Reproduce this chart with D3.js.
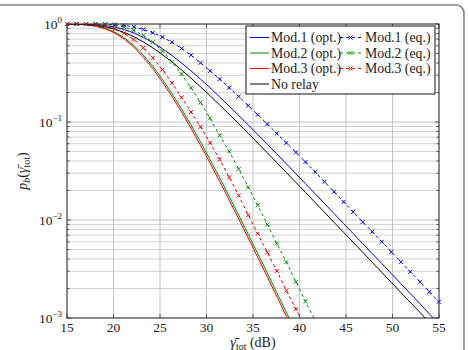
<!DOCTYPE html>
<html><head><meta charset="utf-8">
<script src="https://cdn.jsdelivr.net/npm/d3@7/dist/d3.min.js"></script>
<style>html,body{margin:0;padding:0;background:#fff;}svg{display:block;}
svg text{font-family:"Liberation Serif","DejaVu Serif",serif;}</style>
</head><body>
<svg id="c" width="468" height="350"></svg>
<script>
// x samples (dB)
const snrDb = [15.00,16.03,17.05,18.08,19.10,20.13,21.15,22.18,23.21,24.23,25.26,26.28,27.31,28.33,29.36,30.38,31.41,32.44,33.46,34.49,35.51,36.54,37.56,38.59,39.62,40.64,41.67,42.69,43.72,44.74,45.77,46.79,47.82,48.85,49.87,50.90,51.92,52.95,53.97,55.00];
// outage probability per series
const mod1Opt = [1.000,0.999,0.9956,0.986,0.966,0.931,0.879,0.811,0.7315,0.6465,0.5596,0.4772,0.4005,0.3328,0.2733,0.223,0.1805,0.1453,0.1168,0.0934,0.0745,0.0593,0.0472,0.0374,0.0296,0.02349,0.01858,0.01472,0.01163,0.00921,0.00727,0.00575,0.00454,0.00359,0.00284,0.00224,0.00177,0.0014,0.0011,0.00087];
const mod1Eq = [1.000,1.000,1.000,0.999,0.9954,0.9863,0.9683,0.9333,0.881,0.815,0.736,0.651,0.564,0.481,0.402,0.333,0.274,0.224,0.182,0.147,0.1186,0.0953,0.0764,0.0612,0.0490,0.0391,0.0311,0.02455,0.01941,0.01531,0.01211,0.00955,0.00759,0.00600,0.00473,0.00374,0.00296,0.00234,0.00185,0.001466];
const mod2Opt = [0.9992,0.9959,0.9851,0.9584,0.908,0.8285,0.7245,0.6045,0.4823,0.3702,0.2732,0.1961,0.1365,0.09345,0.0625,0.04141,0.027,0.01742,0.01121,0.00714,0.004548,0.002873,0.001816,0.001141,0.000715];
const mod2Eq = [1.000,1.000,0.9996,0.9978,0.9907,0.9713,0.931,0.8627,0.7667,0.6522,0.5293,0.4126,0.3087,0.224,0.158,0.109,0.0732,0.0501,0.0331,0.0216,0.01413,0.00902,0.00575,0.00372,0.00234,0.00148,0.000955];
const mod3Opt = [0.9989,0.9946,0.9815,0.9506,0.8947,0.8096,0.7022,0.5808,0.4591,0.35,0.2565,0.1831,0.1269,0.0865,0.05774,0.03814,0.0248,0.016,0.01028,0.006545,0.00416,0.002626,0.00166,0.001041,0.000653];
const mod3Eq = [1.000,0.9987,0.9941,0.9798,0.9477,0.8892,0.8032,0.6929,0.571,0.4512,0.342,0.251,0.179,0.1265,0.0895,0.0615,0.0416,0.0272,0.0178,0.01122,0.00724,0.00468,0.00302,0.00191,0.00123,0.000794];
const noRelay = [1.000,0.9962,0.9879,0.9693,0.9363,0.8862,0.8206,0.742,0.6567,0.5706,0.4866,0.4098,0.3402,0.2803,0.2285,0.1854,0.1494,0.1198,0.096,0.0765,0.061,0.0485,0.0385,0.0305,0.02413,0.01913,0.01512,0.01198,0.00946,0.00749,0.00593,0.00469,0.0037,0.00292,0.00231,0.00182,0.00144,0.00114,0.000897];

const xTicks = [15,20,25,30,35,40,45,50,55];
const yExponents = [0,-1,-2,-3];
const legendLabels = ["Mod.1 (opt.)","Mod.1 (eq.)","Mod.2 (opt.)","Mod.2 (eq.)","Mod.3 (opt.)","Mod.3 (eq.)","No relay"];

const BLUE="#0000e6", GREEN="#008a00", RED="#f00000", BLACK="#000";
const series = [
  {name:legendLabels[0], v:mod1Opt, color:BLUE, dashed:false},
  {name:legendLabels[1], v:mod1Eq, color:BLUE, dashed:true},
  {name:legendLabels[2], v:mod2Opt, color:GREEN, dashed:false},
  {name:legendLabels[3], v:mod2Eq, color:GREEN, dashed:true},
  {name:legendLabels[4], v:mod3Opt, color:RED, dashed:false},
  {name:legendLabels[5], v:mod3Eq, color:RED, dashed:true},
  {name:legendLabels[6], v:noRelay, color:BLACK, dashed:false}
];

const L=67, R=439, T=24, B=318;
const svg = d3.select("#c");

// outer rounded frame
svg.append("rect").attr("x",-20).attr("y",5).attr("width",484).attr("height",380)
  .attr("rx",8).attr("fill","none").attr("stroke","#858585").attr("stroke-width",1.6);

const x = d3.scaleLinear().domain([15,55]).range([L,R]);
const y = d3.scaleLog().domain([1e-3,1]).range([B,T]);

// grid
const g = svg.append("g");
const minorVals = [];
for (let e=-3;e<0;e++) for (let m=2;m<=9;m++) minorVals.push(m*Math.pow(10,e));
g.selectAll(".hm").data(minorVals).join("line")
  .attr("x1",L).attr("x2",R).attr("y1",d=>y(d)).attr("y2",d=>y(d))
  .attr("stroke","#cfcfcf").attr("stroke-width",0.9);
g.selectAll(".hM").data(yExponents).join("line")
  .attr("x1",L).attr("x2",R).attr("y1",d=>y(Math.pow(10,d))).attr("y2",d=>y(Math.pow(10,d)))
  .attr("stroke","#c4c4c4").attr("stroke-width",1);
g.selectAll(".vM").data(xTicks).join("line")
  .attr("x1",d=>x(d)).attr("x2",d=>x(d)).attr("y1",T).attr("y2",B)
  .attr("stroke","#c4c4c4").attr("stroke-width",1);

// clip
svg.append("clipPath").attr("id","pc").append("rect").attr("x",L).attr("y",T).attr("width",R-L).attr("height",B-T);

const line = d3.line().x(d=>x(d[0])).y(d=>y(d[1]));
const plot = svg.append("g").attr("clip-path","url(#pc)");
series.forEach(s=>{
  const pts = s.v.map((p,i)=>[snrDb[i],p]);
  plot.append("path").attr("d",line(pts)).attr("fill","none")
    .attr("stroke",s.color).attr("stroke-width",1)
    .attr("stroke-dasharray",s.dashed?"3,3":null);
});
// markers (only in-range points)
series.filter(s=>s.dashed).forEach(s=>{
  const pts = s.v.map((p,i)=>[snrDb[i],p]).filter(d=>d[1]>=1e-3 && d[1]<=1.0001);
  const mg = svg.append("g");
  pts.forEach(d=>{
    const cx=x(d[0]), cy=y(Math.min(d[1],1));
    mg.append("path").attr("d",`M${cx-2},${cy-2}L${cx+2},${cy+2}M${cx-2},${cy+2}L${cx+2},${cy-2}`)
      .attr("stroke",s.color).attr("stroke-width",1);
  });
});

// axes frame
svg.append("rect").attr("x",L).attr("y",T).attr("width",R-L).attr("height",B-T)
  .attr("fill","none").attr("stroke","#333").attr("stroke-width",1);

// ticks (inside, both sides)
const tk = svg.append("g").attr("stroke","#333").attr("stroke-width",0.8);
xTicks.forEach(v=>{
  tk.append("line").attr("x1",x(v)).attr("x2",x(v)).attr("y1",B).attr("y2",B-4);
  tk.append("line").attr("x1",x(v)).attr("x2",x(v)).attr("y1",T).attr("y2",T+4);
});
yExponents.forEach(e=>{
  const yy=y(Math.pow(10,e));
  tk.append("line").attr("x1",L).attr("x2",L+4).attr("y1",yy).attr("y2",yy);
  tk.append("line").attr("x1",R).attr("x2",R-4).attr("y1",yy).attr("y2",yy);
});
minorVals.forEach(v=>{
  const yy=y(v);
  tk.append("line").attr("x1",L).attr("x2",L+2.5).attr("y1",yy).attr("y2",yy);
  tk.append("line").attr("x1",R).attr("x2",R-2.5).attr("y1",yy).attr("y2",yy);
});

// tick labels
svg.selectAll(".xl").data(xTicks).join("text")
  .attr("x",d=>x(d)).attr("y",331.5).attr("text-anchor","middle")
  .attr("font-size",13.5).attr("fill","#222").text(d=>d);
yExponents.forEach(e=>{
  const yy=y(Math.pow(10,e));
  const t = svg.append("text").attr("x",62).attr("y",yy+5).attr("text-anchor","end")
    .attr("font-size",13.5).attr("fill","#222");
  t.append("tspan").text("10");
  t.append("tspan").attr("dy",-6).attr("font-size",9).text(e===0?"0":"\u2212"+(-e));
});

// axis labels
const xl = svg.append("text").attr("x",253).attr("y",347).attr("text-anchor","middle")
  .attr("font-size",14).attr("fill","#222");
xl.append("tspan").attr("font-style","italic").text("\u03B3\u0304");
xl.append("tspan").attr("font-size",10).attr("dy",2.5).text("tot");
xl.append("tspan").attr("dy",-2.5).text(" (dB)");

const yl = svg.append("text").attr("transform","translate(27,171) rotate(-90)")
  .attr("text-anchor","middle").attr("font-size",14).attr("fill","#222");
yl.append("tspan").attr("font-style","italic").text("p");
yl.append("tspan").attr("font-size",10).attr("dy",2.5).attr("font-style","italic").text("b");
yl.append("tspan").attr("dy",-2.5).text("(");
yl.append("tspan").attr("font-style","italic").text("\u03B3\u0304");
yl.append("tspan").attr("font-size",10).attr("dy",2.5).text("tot");
yl.append("tspan").attr("dy",-2.5).text(")");

// legend
const lg = svg.append("g");
lg.append("rect").attr("x",246).attr("y",26).attr("width",189).attr("height",68)
  .attr("fill","#fff").attr("stroke","#111").attr("stroke-width",1);
const rowY = [37.5,53,68.5,84];
series.forEach((s,i)=>{
  let row, x0, x1, tx;
  if (i===6) { row=3; x0=250; x1=269; tx=271; }
  else { row=Math.floor(i/2); if (i%2===0){x0=250;x1=269;tx=271;} else {x0=340;x1=361;tx=365;} }
  const yy=rowY[row];
  lg.append("line").attr("x1",x0).attr("x2",x1).attr("y1",yy).attr("y2",yy)
    .attr("stroke",s.color).attr("stroke-width",1).attr("stroke-dasharray",s.dashed?"3,3":null);
  if (s.dashed){
    const cx=(x0+x1)/2;
    lg.append("path").attr("d",`M${cx-2},${yy-2}L${cx+2},${yy+2}M${cx-2},${yy+2}L${cx+2},${yy-2}`)
      .attr("stroke",s.color).attr("stroke-width",1);
  }
  lg.append("text").attr("x",tx).attr("y",yy+4.5).attr("font-size",13.8)
    .attr("fill","#222").text(s.name);
});
</script>
</body></html>
